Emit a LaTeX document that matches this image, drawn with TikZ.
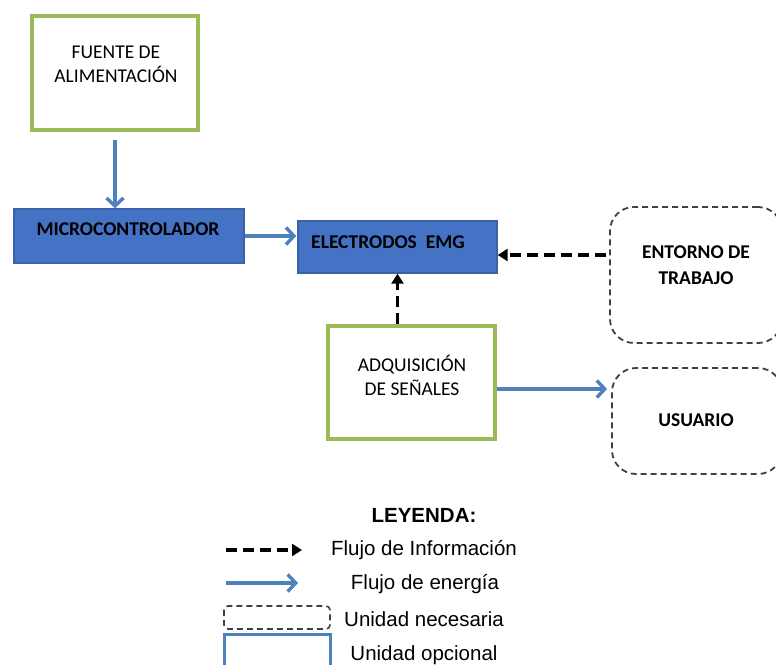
\documentclass[tikz,border=0pt]{standalone}
\usepackage{fontspec}
\setmainfont{Carlito}
\newfontfamily\legfont{Liberation Sans}
\usetikzlibrary{arrows.meta}
\definecolor{boxgreen}{HTML}{9BBB59}
\definecolor{boxblue}{HTML}{4472C4}
\definecolor{boxblueline}{HTML}{3A62A8}
\definecolor{flowblue}{HTML}{4F81BD}
\definecolor{dashgray}{HTML}{404040}
\tikzset{
  optbox/.style={draw=boxgreen, line width=3.4pt, fill=white, inner sep=0pt},
  mainbox/.style={draw=boxblueline, line width=1.4pt, fill=boxblue, inner sep=0pt},
  needbox/.style={draw=dashgray, line width=1.8pt, dash pattern=on 6pt off 4pt,
    rounded corners=24pt, inner sep=0pt},
  boxtext/.style={align=center, inner sep=0pt, font=\fontsize{19.5}{24}\selectfont},
  boldtext/.style={boxtext, font=\fontsize{19.5}{26}\selectfont\bfseries},
  energy/.style={draw=flowblue, line width=3.4pt,
    -{Straight Barb[length=8pt, width=17pt, line width=3.4pt]}},
  info/.style={draw=black, line width=3.6pt, dash pattern=on 11pt off 6pt,
    -{Triangle[length=10pt, width=12pt]}},
  legtext/.style={inner sep=0pt, font=\fontsize{20.5}{24}\selectfont\legfont}
}
\begin{document}
\begin{tikzpicture}[x=1pt, y=-1pt]
  \useasboundingbox (0,0) rectangle (776,664);
  \clip (0,0) rectangle (776,664);
  \fill[white] (0,0) rectangle (776,664);

  % units of the system
  \node[optbox, minimum width=166pt, minimum height=114pt] (fuente) at (115,73) {};
  \node[boxtext] (fuenteT) at (116,64) {FUENTE DE\\ALIMENTACIÓN};

  \node[mainbox, minimum width=230pt, minimum height=54pt] (micro) at (129,236) {};
  \node[boldtext] (microT) at (128,229) {MICROCONTROLADOR};

  \node[mainbox, minimum width=199pt, minimum height=52pt] (emg) at (397.5,247) {};
  \node[boldtext] (emgT) at (388,242) {ELECTRODOS\ \ EMG};

  \node[needbox, minimum width=172pt, minimum height=136pt] (entorno) at (696,275) {};
  \node[boldtext] (entornoT) at (696,265) {ENTORNO DE\\TRABAJO};

  \node[optbox, minimum width=167pt, minimum height=113pt] (adq) at (411.5,382.5) {};
  \node[boxtext] (adqT) at (412,375) {ADQUISICIÓN\\DE SEÑALES};

  \node[needbox, minimum width=170pt, minimum height=106pt] (usuario) at (697,421) {};
  \node[boldtext] (usuarioT) at (696,420) {USUARIO};

  % flows
  \draw[energy] (fuente.south |- 0,140) -- (fuente.south |- micro.north);
  \draw[energy] (micro.east) -- ([xshift=-1pt]micro.east -| emg.west);
  \draw[info] (entorno.west |- 0,255) ++(-3,0) -- (emg.east |- 0,255);
  \draw[info] (emg.south |- adq.north) -- (emg.south);
  \draw[energy] (adq.east |- 0,389) -- ([xshift=-4pt]usuario.west |- 0,389);

  % legend
  \node[legtext, font=\fontsize{20.5}{24}\selectfont\legfont\bfseries] (ley) at (424,515) {LEYENDA:};
  \coordinate (i0) at (226,550);
  \coordinate (i1) at (302,550);
  \draw[info] (i0) -- (i1);
  \node[legtext] (infoT) at (424,550) {Flujo de Información};
  \coordinate (e0) at (226,583);
  \coordinate (e1) at (298,583);
  \draw[energy] (e0) -- (e1);
  \node[legtext] (enerT) at (425,584) {Flujo de energía};
  \draw[draw=dashgray, line width=1.6pt, dash pattern=on 6pt off 4pt, rounded corners=4pt]
    (224,606) rectangle (330,629);
  \node[legtext] (necT) at (424,619) {Unidad necesaria};
  \draw[draw=flowblue, line width=3pt] (224,634) rectangle (330,690);
  \node[legtext] (opcT) at (424,655) {Unidad opcional};
\end{tikzpicture}
\end{document}
